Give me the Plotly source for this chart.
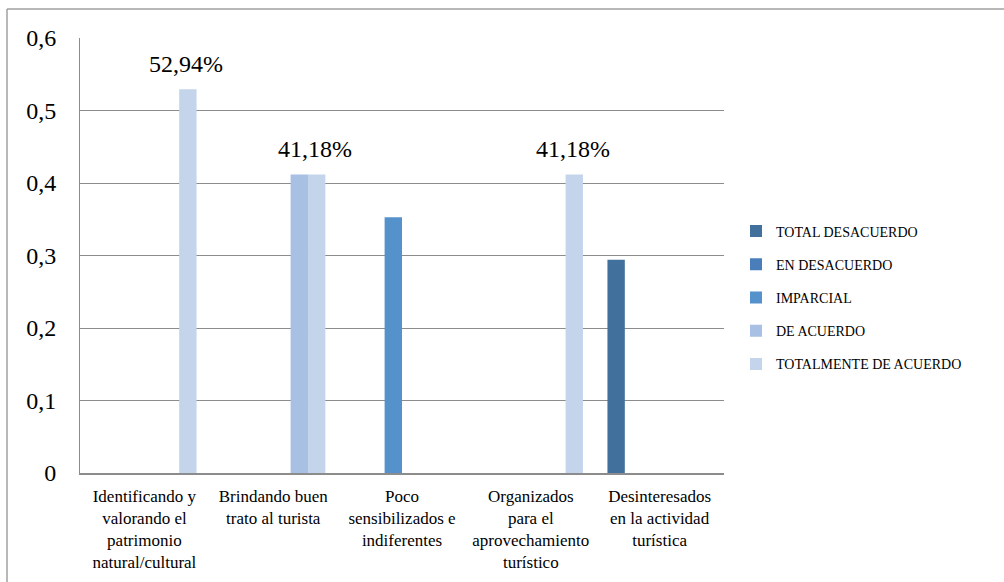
import plotly.graph_objects as go

categories = [
    "Identificando y<br>valorando el<br>patrimonio<br>natural/cultural",
    "Brindando buen<br>trato al turista",
    "Poco<br>sensibilizados e<br>indiferentes",
    "Organizados<br>para el<br>aprovechamiento<br>turístico",
    "Desinteresados<br>en la actividad<br>turística",
]
series_names = ["TOTAL DESACUERDO", "EN DESACUERDO", "IMPARCIAL", "", "DE ACUERDO", "TOTALMENTE DE ACUERDO"]
total_desacuerdo = [None, None, None, None, 0.2941]
en_desacuerdo = [None, None, None, None, None]
imparcial = [None, None, 0.3529, None, None]
blank_series = [None, None, None, None, None]
de_acuerdo = [None, 0.4118, None, None, None]
totalmente = [0.5294, 0.4118, None, 0.4118, None]
y_ticks = [0, 0.1, 0.2, 0.3, 0.4, 0.5, 0.6]
y_tick_text = ["0", "0,1", "0,2", "0,3", "0,4", "0,5", "0,6"]

colors = ["#41709C", "#4A7EBB", "#5592CB", "#FFFFFF", "#A7C0E3", "#C3D4EB"]
all_series = [total_desacuerdo, en_desacuerdo, imparcial, blank_series, de_acuerdo, totalmente]

FONT = "Liberation Serif"
fig = go.Figure()
for name, vals, col in zip(series_names, all_series, colors):
    fig.add_trace(go.Bar(
        x=categories, y=vals, name=name, marker_color=col,
        marker_line_width=0, showlegend=(name != ""), legendgroup=name or "blank",
    ))

# data labels on TOTALMENTE DE ACUERDO series
for cat, v in zip(categories, totalmente):
    if v is not None:
        fig.add_annotation(
            x=cat, y=v, xref="x", yref="y", text=f"{v*100:.2f}%".replace(".", ","),
            showarrow=False, xshift=42, yshift=25, yanchor="middle",
            font=dict(family=FONT, size=24, color="black"),
        )

L, R, T, B = 80, 280, 38, 109
W, H = 1004, 582
pw, ph = W - L - R, H - T - B
def px(xp):
    return (xp - L) / pw
def py(yp):
    return (H - B - yp) / ph

fig.update_layout(
    width=W, height=H,
    margin=dict(l=L, r=R, t=T, b=B, pad=0, autoexpand=False),
    paper_bgcolor="white", plot_bgcolor="white",
    barmode="group", bargap=0.19, bargroupgap=0,
    font=dict(family=FONT, color="black"),
    legend=dict(
        x=px(736), y=py(297.5), xanchor="left", yanchor="middle",
        font=dict(family=FONT, size=14, color="black"),
        tracegroupgap=12, bgcolor="rgba(0,0,0,0)",
    ),
    xaxis=dict(
        showgrid=False, showline=True, linecolor="#8C8C8C", linewidth=1.5,
        ticks="", tickfont=dict(family=FONT, size=17, color="black"),
        ticklabelstandoff=7, fixedrange=True, automargin=False,
    ),
    yaxis=dict(
        range=[0, 0.6], tickvals=y_ticks, ticktext=y_tick_text,
        showgrid=True, gridcolor="#8C8C8C", gridwidth=1,
        showline=True, linecolor="#8C8C8C", linewidth=1, zeroline=False,
        ticks="", tickfont=dict(family=FONT, size=24, color="black"),
        ticklabelstandoff=18, automargin=False,
    ),
    shapes=[
        dict(type="line", xref="paper", yref="paper", x0=px(7), x1=px(1010), y0=py(9), y1=py(9),
             line=dict(color="#A0A0A0", width=1.5)),
        dict(type="line", xref="paper", yref="paper", x0=px(7), x1=px(7), y0=py(9), y1=py(590),
             line=dict(color="#A0A0A0", width=1.5)),
    ],
)

fig.write_html("out.html", config={"displayModeBar": False},
               post_script="document.body.style.margin='0';")
